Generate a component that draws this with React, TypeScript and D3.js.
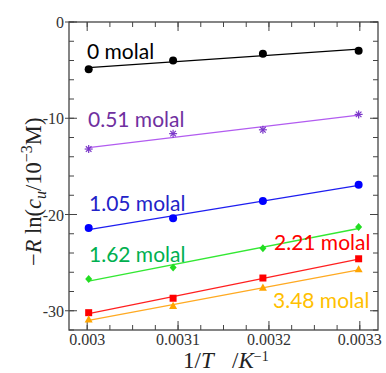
import React from "react";
import * as d3 from "d3";

const invT = [1 / 333.15, 1 / 323.15, 1 / 313.15, 1 / 303.15];
const xTicks = [0.003, 0.0031, 0.0032, 0.0033];
const xTickLabels = ["0.003", "0.0031", "0.0032", "0.0033"];
const yTicks = [0, -10, -20, -30];
const yTickLabels = ["0", "-10", "-20", "-30"];

const series0 = [-4.9, -4.0, -3.3, -2.98];
const series051 = [-13.2, -11.6, -11.2, -9.6];
const series105 = [-21.4, -20.4, -18.6, -16.9];
const series162 = [-26.7, -25.5, -23.5, -21.3];
const series221 = [-30.2, -28.7, -26.6, -24.6];
const series348 = [-30.9, -29.5, -27.6, -25.7];

const labels = ["0 molal", "0.51 molal", "1.05 molal", "1.62 molal", "2.21 molal", "3.48 molal"];

type S = {
  vals: number[]; line: string; mark: string; text: string; shape: string;
  lx: number; ly: number;
};

const seriesDefs: S[] = [
  { vals: series0, line: "#000000", mark: "#000000", text: "#000000", shape: "circle", lx: 87, ly: 59 },
  { vals: series051, line: "#B25CF0", mark: "#7A36C8", text: "#7030A0", shape: "asterisk", lx: 88, ly: 127 },
  { vals: series105, line: "#1E1EF0", mark: "#0000FF", text: "#2323C8", shape: "circle", lx: 89, ly: 211 },
  { vals: series162, line: "#33E833", mark: "#22DD22", text: "#00B050", shape: "diamond", lx: 89, ly: 262 },
  { vals: series221, line: "#FF2020", mark: "#FF0000", text: "#FF0000", shape: "square", lx: 274, ly: 250 },
  { vals: series348, line: "#FFAA22", mark: "#FFA500", text: "#FFC000", shape: "triangle", lx: 273, ly: 308 },
];

function fit(xs: number[], ys: number[]) {
  const mx = d3.mean(xs)!;
  const my = d3.mean(ys)!;
  let num = 0, den = 0;
  xs.forEach((x, i) => { num += (x - mx) * (ys[i] - my); den += (x - mx) * (x - mx); });
  const b = num / den;
  return (x: number) => my + b * (x - mx);
}

export default function App() {
  const W = 386, H = 373;
  const L = 69, R = 378, T = 22, B = 330;
  const x = d3.scaleLinear().domain([0.00298, 0.00332]).range([L, R]);
  const y = d3.scaleLinear().domain([-32, 0]).range([B, T]);
  const xMinor = d3.range(0.003, 0.00331, 0.000025);
  const yMinor = d3.range(0, -32.01, -2);
  const serif = "'Liberation Serif', 'DejaVu Serif', serif";
  const sans = "Lato, 'Open Sans', 'Noto Sans', sans-serif";

  const marker = (s: S, cx: number, cy: number, k: number) => {
    const c = s.mark;
    if (s.shape === "circle") return <circle key={k} cx={cx} cy={cy} r={4} fill={c} />;
    if (s.shape === "square") return <rect key={k} x={cx - 3.5} y={cy - 3.5} width={7} height={7} fill={c} />;
    if (s.shape === "diamond") return <path key={k} d={`M${cx},${cy - 4}L${cx + 3.5},${cy}L${cx},${cy + 4}L${cx - 3.5},${cy}Z`} fill={c} />;
    if (s.shape === "triangle") return <path key={k} d={`M${cx},${cy - 4.2}L${cx + 4},${cy + 3}L${cx - 4},${cy + 3}Z`} fill={c} />;
    const r = 4;
    return (
      <g key={k} stroke={c} strokeWidth={1.2}>
        <line x1={cx - r} y1={cy} x2={cx + r} y2={cy} />
        <line x1={cx} y1={cy - r} x2={cx} y2={cy + r} />
        <line x1={cx - r * 0.7} y1={cy - r * 0.7} x2={cx + r * 0.7} y2={cy + r * 0.7} />
        <line x1={cx - r * 0.7} y1={cy + r * 0.7} x2={cx + r * 0.7} y2={cy - r * 0.7} />
      </g>
    );
  };

  return (
    <svg width={W} height={H} style={{ position: "absolute", left: 0, top: 0, background: "#fff" }}>
      <g stroke="#444" strokeWidth={1}>
        {xMinor.map((v, i) => (
          <g key={"xm" + i}>
            <line x1={x(v)} x2={x(v)} y1={B} y2={B - 5} />
            <line x1={x(v)} x2={x(v)} y1={T} y2={T + 5} />
          </g>
        ))}
        {yMinor.map((v, i) => (
          <g key={"ym" + i}>
            <line x1={L} x2={L + 5} y1={y(v)} y2={y(v)} />
            <line x1={R} x2={R - 5} y1={y(v)} y2={y(v)} />
          </g>
        ))}
        {xTicks.map((v, i) => (
          <g key={"xM" + i}>
            <line x1={x(v)} x2={x(v)} y1={B} y2={B - 9} />
            <line x1={x(v)} x2={x(v)} y1={T} y2={T + 9} />
          </g>
        ))}
        {yTicks.map((v, i) => (
          <g key={"yM" + i}>
            <line x1={L - 4} x2={L + 8} y1={y(v)} y2={y(v)} />
            <line x1={R} x2={R - 8} y1={y(v)} y2={y(v)} />
          </g>
        ))}
      </g>
      <rect x={L} y={T} width={R - L} height={B - T} fill="none" stroke="#444" strokeWidth={1.3} />
      <g fontFamily={serif} fontSize={16} fill="#333">
        {xTicks.map((v, i) => (
          <text key={"xl" + i} x={x(v)} y={345} textAnchor="middle">{xTickLabels[i]}</text>
        ))}
        {yTicks.map((v, i) => (
          <text key={"yl" + i} x={64} y={y(v) + 6} textAnchor="end">{yTickLabels[i]}</text>
        ))}
      </g>
      {seriesDefs.map((s, si) => {
        const f = fit(invT, s.vals);
        const x0 = invT[0], x1 = invT[invT.length - 1];
        return (
          <g key={"s" + si}>
            <line x1={x(x0)} y1={y(f(x0))} x2={x(x1)} y2={y(f(x1))} stroke={s.line} strokeWidth={1.3} />
            {s.vals.map((v, i) => marker(s, x(invT[i]), y(v), i))}
            <text x={s.lx} y={s.ly} fontFamily={sans} fontSize={21} fill={s.text}>{labels[si]}</text>
          </g>
        );
      })}
      <text x={183} y={368} fontFamily={serif} fontSize={23} fill="#222">
        1/<tspan fontStyle="italic">T</tspan>
        <tspan x={232}>/</tspan>
        <tspan fontStyle="italic">K</tspan>
        <tspan dy={-7} fontSize={14}>−1</tspan>
      </text>
      <text transform="translate(41,266) rotate(-90)" fontFamily={serif} fontSize={22.5} fill="#222">
        −<tspan fontStyle="italic">R</tspan> ln(<tspan fontStyle="italic">c</tspan>
        <tspan fontStyle="italic" fontSize={16} dy={5}>u</tspan>
        <tspan dy={-5}>/10</tspan>
        <tspan dy={-9} fontSize={16}>−3</tspan>
        <tspan dy={9}>M)</tspan>
      </text>
    </svg>
  );
}
